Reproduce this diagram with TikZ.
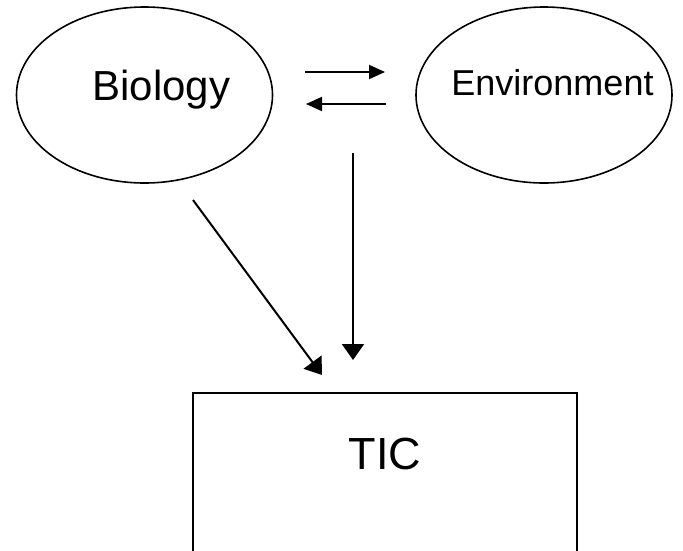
\documentclass[tikz,border=0pt]{standalone}
\usepackage{fontspec}
\setmainfont{Liberation Sans}
\usetikzlibrary{shapes.geometric,arrows.meta}

\tikzset{
  oval/.style={draw, ellipse, line width=1.6pt, inner sep=0pt,
    minimum width=256pt, minimum height=176pt},
  flow/.style={-{Triangle[length=16pt,width=14pt]}, line width=2pt},
  drop/.style={-{Triangle[length=16pt,width=22pt]}, line width=2pt}
}

\begin{document}
\begin{tikzpicture}[x=1pt,y=-1pt]
        \clip (0,0) rectangle (683,550);

        \node[oval] (bio) at (144.5, 95) {};
        \node[oval] (env) at (544, 95) {};
        \node[anchor=base, font=\fontsize{42}{46}\selectfont] (biotext) at (161.5, 100) {Biology};
        \node[anchor=base, font=\fontsize{36}{40}\selectfont] (envtext) at (552.5, 95) {Environment};

        \node[draw, line width=2.4pt, anchor=north, inner xsep=0pt, inner ysep=45pt,
              minimum width=384pt, text depth=150pt,
              font=\fontsize{45}{50}\selectfont] (tic) at (385, 392) {TIC};

        \coordinate (to env) at (305, 72);
        \coordinate (at env) at (385, 72);
        \coordinate (to bio) at (386, 104);
        \coordinate (at bio) at (306, 104);
        \coordinate (bio out) at (193, 200);
        \coordinate (bio in tic) at (322, 375);
        \coordinate (env out) at (353, 153);
        \coordinate (env in tic) at (353, 360);

        \draw[flow] (to env) -- (at env);
        \draw[flow] (to bio) -- (at bio);
        \draw[drop] (bio out) -- (bio in tic);
        \draw[drop] (env out) -- (env in tic);
    \end{tikzpicture}
\end{document}
